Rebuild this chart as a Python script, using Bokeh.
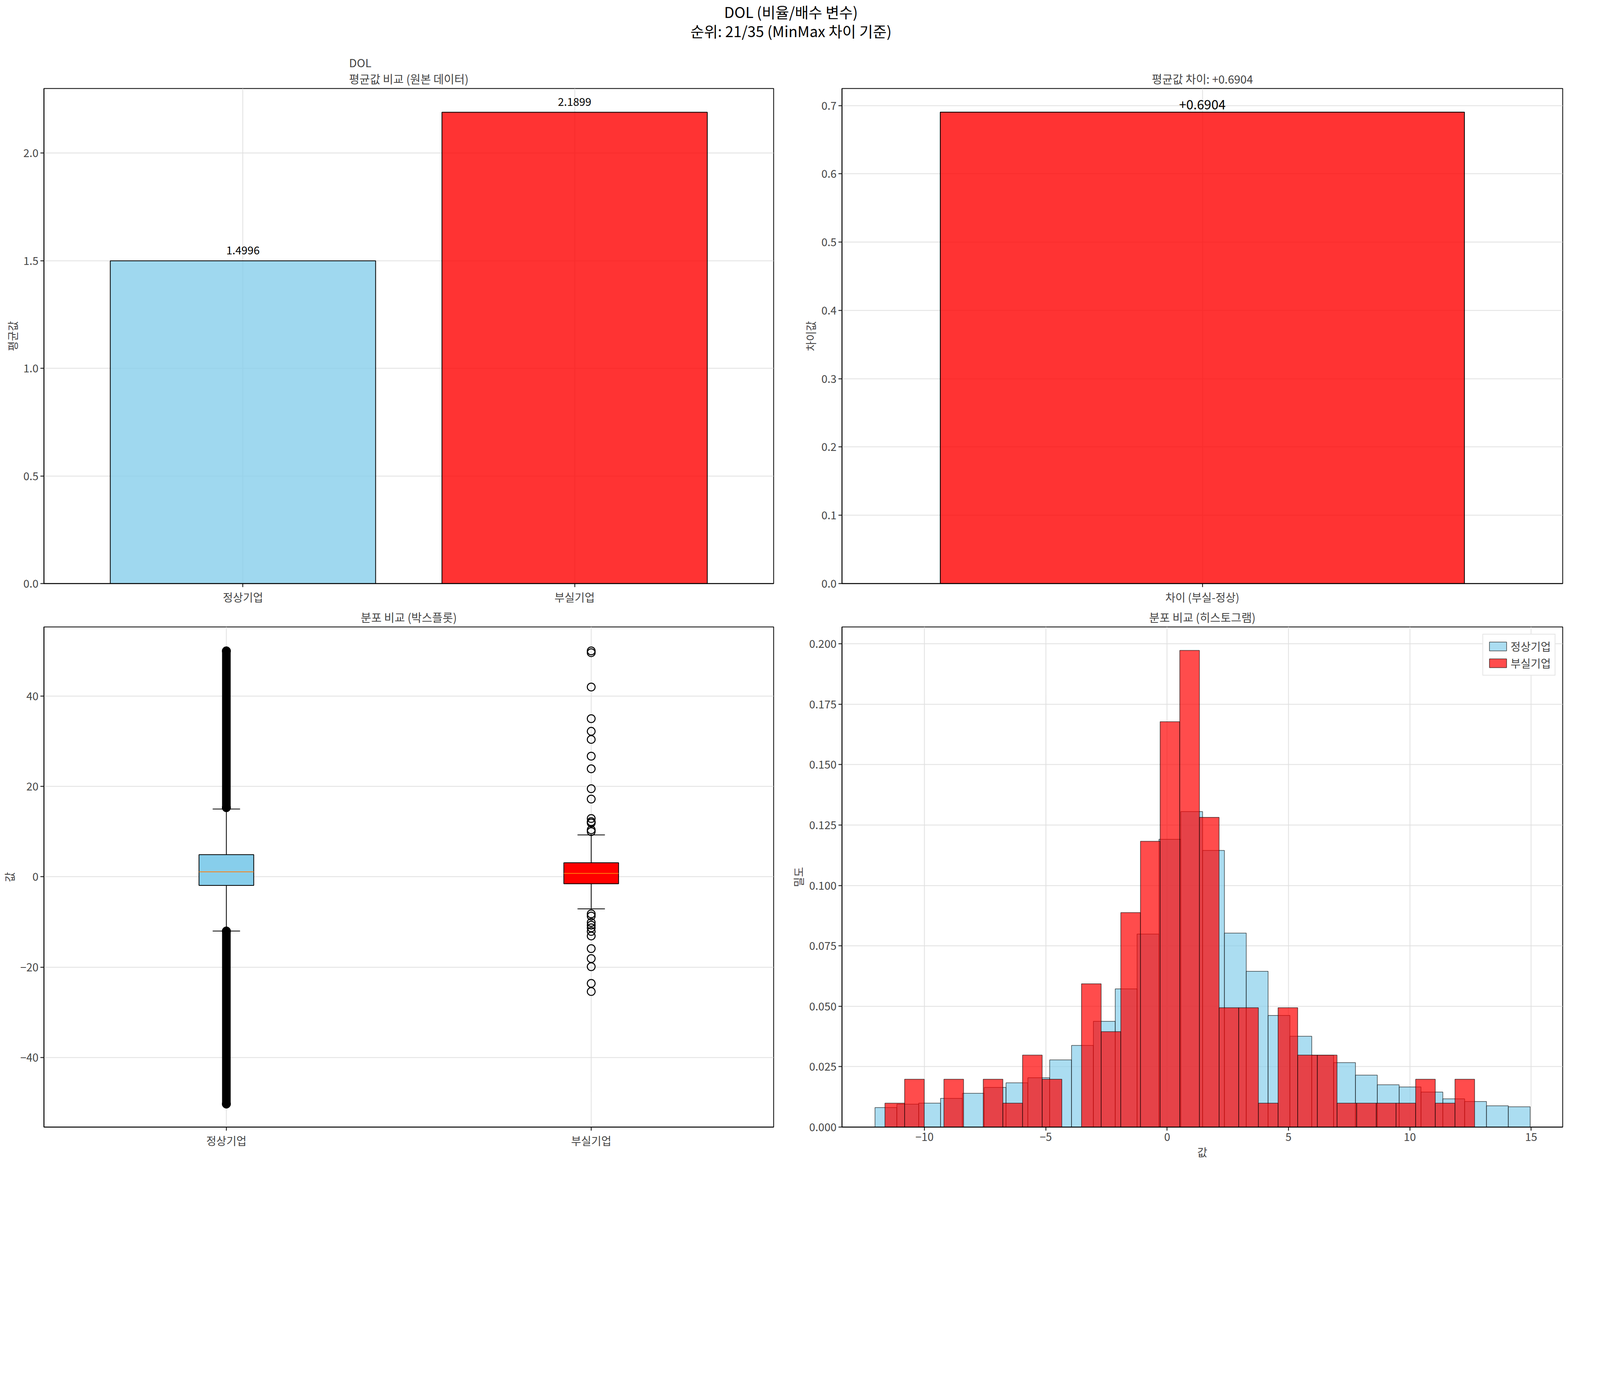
from bokeh.plotting import figure
from bokeh.models import Div, FixedTicker, Legend, LegendItem
from bokeh.layouts import column, gridplot
from bokeh.embed import file_html
from bokeh.resources import INLINE
from bokeh.core.properties import value

FONT = "Noto Sans CJK KR"
SKY = "#87CEEB"
RED = "#FF0000"

# data
groups = ["정상기업", "부실기업"]
means = [1.4996, 2.1899]
diff = 0.6904

# boxplot stats: q1, median, q3, lower whisker, upper whisker
normal_box = [-1.9, 1.1, 4.9, -12.0, 15.0]
failed_box = [-1.55, 0.74, 3.1, -7.1, 9.26]
# normal firms: outliers form a continuous band
normal_out_low = [-50.3, -12.0]
normal_out_high = [15.3, 50.0]
failed_out = [49.6, 50.0, 42.0, 35.0, 32.2, 30.4, 26.7, 23.9, 19.5, 17.2, 12.9, 12.2,
              11.9, 10.4, 10.0, -8.2, -8.7, -10.1, -10.7, -11.3, -12.1, -13.1, -15.9,
              -18.1, -19.9, -23.6, -25.4]

# histograms (density)
normal_start, normal_width = -12.04, 0.9
normal_dens = [0.0081, 0.0095, 0.0099, 0.0119, 0.014, 0.0164, 0.0183, 0.0204, 0.0278,
               0.0338, 0.0438, 0.0572, 0.0799, 0.1191, 0.1306, 0.1145, 0.0803, 0.0645,
               0.0462, 0.0376, 0.0297, 0.0267, 0.0215, 0.0175, 0.0166, 0.0145, 0.0117,
               0.0106, 0.0088, 0.0084]
failed_start, failed_width = -11.63, 0.81
failed_dens = [0.0099, 0.0198, 0.0, 0.0198, 0.0, 0.0198, 0.0099, 0.0298, 0.0198, 0.0,
               0.0593, 0.0395, 0.0888, 0.1183, 0.1678, 0.1973, 0.1282, 0.0494, 0.0494,
               0.0099, 0.0494, 0.0298, 0.0298, 0.0099, 0.0099, 0.0099, 0.0099, 0.0198,
               0.0099, 0.0198]

W, H = 2020, 1420
TICK = "28px"
TITLE = "29px"


def base(title, **kw):
    p = figure(width=W, height=H, title=title, output_backend="svg",
               toolbar_location=None, **kw)
    p.title.align = "center"
    p.title.text_font = FONT
    p.title.text_font_size = TITLE
    p.title.text_font_style = "normal"
    p.outline_line_color = "black"
    p.outline_line_width = 2
    p.min_border_left = 110
    p.min_border_right = 40
    for ax in p.axis:
        ax.major_label_text_font = FONT
        ax.major_label_text_font_size = TICK
        ax.axis_label_text_font = FONT
        ax.axis_label_text_font_size = TICK
        ax.axis_label_text_font_style = "normal"
        ax.axis_line_color = "black"
        ax.axis_line_width = 2
        ax.major_tick_line_width = 2
        ax.major_tick_out = 9
        ax.major_tick_in = 0
        ax.minor_tick_line_color = None
    p.grid.grid_line_color = "#e0e0e0"
    p.grid.grid_line_width = 2
    return p


def cat_axis(p, labels):
    p.xaxis.ticker = FixedTicker(ticks=list(range(len(labels))))
    p.xaxis.major_label_overrides = {i: l for i, l in enumerate(labels)}


def y_ticks(p, ticks, fmt):
    p.yaxis.ticker = FixedTicker(ticks=ticks)
    p.yaxis.major_label_overrides = {t: fmt.format(t) for t in ticks}


# top left: means
p1 = base("DOL\n평균값 비교 (원본 데이터)", x_range=(-0.6, 1.6), y_range=(0, 2.3))
p1.vbar(x=[0, 1], top=means, width=0.8, fill_color=[SKY, RED], fill_alpha=0.8,
        line_color="black", line_width=2)
p1.text(x=[0, 1], y=[m + 0.03 for m in means], text=[f"{m:.4f}" for m in means],
        text_align="center", text_baseline="bottom", text_font=value(FONT),
        text_font_size="28px")
cat_axis(p1, groups)
p1.yaxis.axis_label = "평균값"
y_ticks(p1, [0, 0.5, 1.0, 1.5, 2.0], "{:.1f}")

# top right: difference
p2 = base(f"평균값 차이: +{diff:.4f}", x_range=(-0.55, 0.55), y_range=(0, 0.725))
p2.vbar(x=[0], top=[diff], width=0.8, fill_color=RED, fill_alpha=0.8,
        line_color="black", line_width=2)
p2.text(x=[0], y=[diff + 0.004], text=[f"+{diff:.4f}"], text_align="center",
        text_baseline="bottom", text_font=value(FONT), text_font_size="33px")
cat_axis(p2, ["차이 (부실-정상)"])
p2.yaxis.axis_label = "차이값"
y_ticks(p2, [0, 0.1, 0.2, 0.3, 0.4, 0.5, 0.6, 0.7], "{:.1f}")

# bottom left: boxplot
p3 = base("분포 비교 (박스플롯)", x_range=(-0.5, 1.5), y_range=(-55.4, 55.3))
for i, (b, col) in enumerate([(normal_box, SKY), (failed_box, RED)]):
    q1, med, q3, lo, hi = b
    p3.segment(x0=[i, i], y0=[q3, q1], x1=[i, i], y1=[hi, lo], line_color="black",
               line_width=2)
    p3.segment(x0=[i - 0.0375] * 2, y0=[hi, lo], x1=[i + 0.0375] * 2, y1=[hi, lo],
               line_color="black", line_width=2)
    p3.quad(left=[i - 0.075], right=[i + 0.075], bottom=[q1], top=[q3],
            fill_color=col, line_color="black", line_width=2)
    p3.segment(x0=[i - 0.075], y0=[med], x1=[i + 0.075], y1=[med],
               line_color="#FF7F0E", line_width=2)
for rng in (normal_out_low, normal_out_high):
    p3.segment(x0=[0], y0=[rng[0]], x1=[0], y1=[rng[1]], line_color="black",
               line_width=22)
    p3.scatter(x=[0, 0], y=rng, size=22, fill_color="black", line_color="black")
p3.scatter(x=[1] * len(failed_out), y=failed_out, size=20, marker="circle",
           fill_color=None, line_color="black", line_width=2.5)
cat_axis(p3, groups)
p3.yaxis.axis_label = "값"
p3.yaxis.ticker = FixedTicker(ticks=[-40, -20, 0, 20, 40])

# bottom right: histogram
p4 = base("분포 비교 (히스토그램)", x_range=(-13.4, 16.3), y_range=(0, 0.207))
nl = [normal_start + normal_width * i for i in range(len(normal_dens))]
fl = [failed_start + failed_width * i for i in range(len(failed_dens))]
r1 = p4.quad(left=nl, right=[x + normal_width for x in nl], bottom=0, top=normal_dens,
             fill_color=SKY, fill_alpha=0.7, line_color="black", line_alpha=0.7,
             line_width=1.5)
r2 = p4.quad(left=fl, right=[x + failed_width for x in fl], bottom=0, top=failed_dens,
             fill_color=RED, fill_alpha=0.7, line_color="black", line_alpha=0.7,
             line_width=1.5)
p4.xaxis.axis_label = "값"
p4.yaxis.axis_label = "밀도"
p4.xaxis.ticker = FixedTicker(ticks=[-10, -5, 0, 5, 10, 15])
y_ticks(p4, [0, 0.025, 0.05, 0.075, 0.1, 0.125, 0.15, 0.175, 0.2], "{:.3f}")
leg = Legend(items=[LegendItem(label="정상기업", renderers=[r1]),
                    LegendItem(label="부실기업", renderers=[r2])],
             location="top_right", label_text_font=FONT, label_text_font_size="28px",
             border_line_color="#cccccc", border_line_width=2, glyph_width=55,
             glyph_height=28, margin=18)
p4.add_layout(leg)

for p in (p1, p2, p3):
    p.xgrid.ticker = p.xaxis.ticker

title = Div(text="<div style='width:100%;text-align:center;font-family:\"Noto Sans CJK KR\";"
                 "font-size:38px;line-height:1.3'>DOL (비율/배수 변수)<br>"
                 "순위: 21/35 (MinMax 차이 기준)</div>",
            width=2 * W, height=120, styles={"text-align": "center", "width": f"{2 * W}px"})
grid = gridplot([[p1, p2], [p3, p4]], toolbar_location=None)
layout = column(title, grid)
open("out.html", "w").write(file_html(layout, INLINE))
